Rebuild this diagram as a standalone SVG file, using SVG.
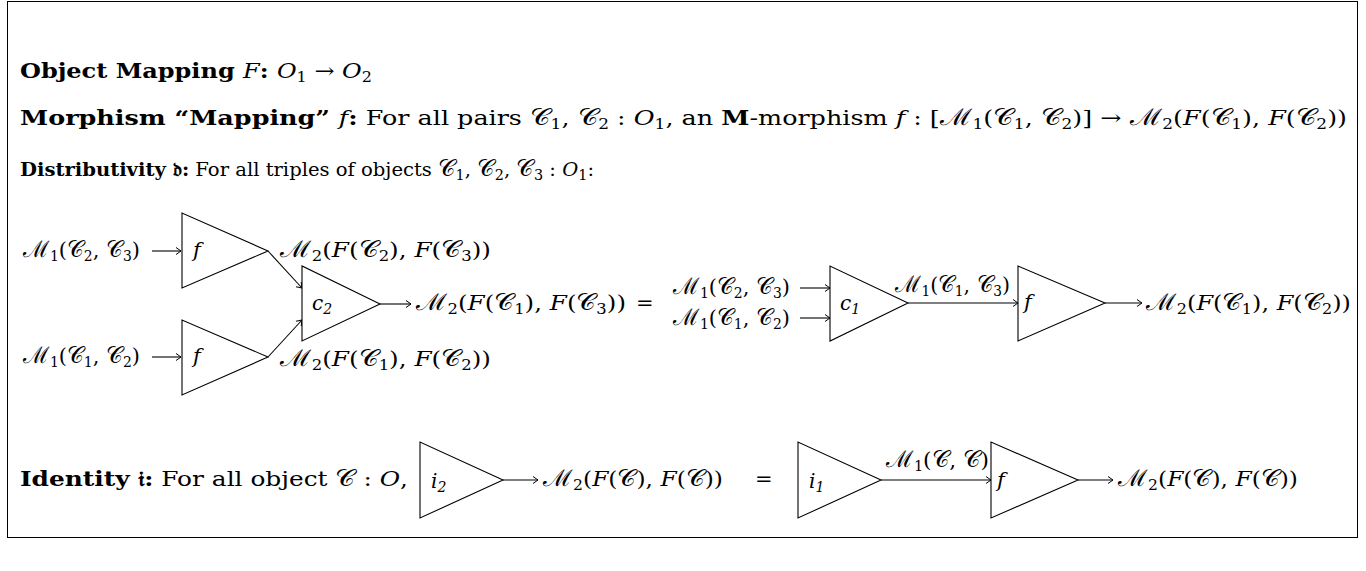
<svg xmlns="http://www.w3.org/2000/svg" width="1366" height="571" viewBox="0 0 1366 571">
<defs>
<style>
text{font-family:"DejaVu Serif","Liberation Serif",serif;font-size:20px;fill:#000}
.h{font-size:21px}
.d{font-size:19px}
.lb{font-size:21px}
.b{font-weight:bold}
.i{font-style:italic}
.sc{font-size:23px}
.sb{font-size:14px;baseline-shift:-4px}
.tri{fill:#fff;stroke:#000;stroke-width:1.1}
.con{fill:none;stroke:#000;stroke-width:1.1;marker-end:url(#ah)}
</style>
<marker id="ah" markerUnits="userSpaceOnUse" markerWidth="10" markerHeight="10" viewBox="-6 -5 7 10" refX="0" refY="0" orient="auto">
<path d="M-5,-3.5 Q-1.5,-1 0,0 Q-1.5,1 -5,3.5" fill="none" stroke="#000" stroke-width="1"/>
</marker>
</defs>
<rect x="7.5" y="1.5" width="1350" height="536" fill="#fff" stroke="#000" stroke-width="1"/>

<g id="header">
<text class="h" x="20" y="78" textLength="352" lengthAdjust="spacingAndGlyphs"><tspan class="b">Object Mapping </tspan><tspan class="i">F</tspan><tspan class="b">: </tspan><tspan class="i">O</tspan><tspan class="sb">1</tspan> → <tspan class="i">O</tspan><tspan class="sb">2</tspan></text>
<text class="h" x="20" y="125" textLength="1327" lengthAdjust="spacingAndGlyphs"><tspan class="b">Morphism “Mapping” </tspan><tspan class="i">f</tspan><tspan class="b">:</tspan> For all pairs <tspan class="sc">𝒞</tspan><tspan class="sb">1</tspan>, <tspan class="sc">𝒞</tspan><tspan class="sb">2</tspan> : <tspan class="i">O</tspan><tspan class="sb">1</tspan>, an <tspan class="b">M</tspan>-morphism <tspan class="i">f</tspan> : [<tspan class="sc">ℳ</tspan><tspan class="sb">1</tspan>(<tspan class="sc">𝒞</tspan><tspan class="sb">1</tspan>, <tspan class="sc">𝒞</tspan><tspan class="sb">2</tspan>)] → <tspan class="sc">ℳ</tspan><tspan class="sb">2</tspan>(<tspan class="i">F</tspan>(<tspan class="sc">𝒞</tspan><tspan class="sb">1</tspan>), <tspan class="i">F</tspan>(<tspan class="sc">𝒞</tspan><tspan class="sb">2</tspan>))</text>
<text class="d" x="20" y="176" textLength="574" lengthAdjust="spacingAndGlyphs"><tspan class="b">Distributivity 𝔡:</tspan> For all triples of objects <tspan class="sc">𝒞</tspan><tspan class="sb">1</tspan>, <tspan class="sc">𝒞</tspan><tspan class="sb">2</tspan>, <tspan class="sc">𝒞</tspan><tspan class="sb">3</tspan> : <tspan class="i">O</tspan><tspan class="sb">1</tspan>:</text>
<text class="h" x="20" y="486" textLength="388" lengthAdjust="spacingAndGlyphs"><tspan class="b">Identity 𝔦:</tspan> For all object <tspan class="sc">𝒞</tspan> : <tspan class="i">O</tspan>,</text>
</g>

<g id="connectors">
<path class="con" d="M152,251 H181"/>
<path class="con" d="M152,357 H181"/>
<path class="con" d="M268,251 L302,288"/>
<path class="con" d="M268,357 L302,320"/>
<path class="con" d="M380,304 H411"/>
<path class="con" d="M800,288 H830"/>
<path class="con" d="M800,318 H830"/>
<path class="con" d="M908,303 H1018"/>
<path class="con" d="M1105,303 H1142"/>
<path class="con" d="M503,480 H538"/>
<path class="con" d="M881,480 H991"/>
<path class="con" d="M1078,480 H1113"/>
</g>

<g id="labels">
<text class="lb" x="23" y="257" textLength="117" lengthAdjust="spacingAndGlyphs"><tspan class="sc">ℳ</tspan><tspan class="sb">1</tspan>(<tspan class="sc">𝒞</tspan><tspan class="sb">2</tspan>, <tspan class="sc">𝒞</tspan><tspan class="sb">3</tspan>)</text>
<text class="lb" x="23" y="363" textLength="117" lengthAdjust="spacingAndGlyphs"><tspan class="sc">ℳ</tspan><tspan class="sb">1</tspan>(<tspan class="sc">𝒞</tspan><tspan class="sb">1</tspan>, <tspan class="sc">𝒞</tspan><tspan class="sb">2</tspan>)</text>
<text class="lb" x="280" y="257" textLength="211" lengthAdjust="spacingAndGlyphs"><tspan class="sc">ℳ</tspan><tspan class="sb">2</tspan>(<tspan class="i">F</tspan>(<tspan class="sc">𝒞</tspan><tspan class="sb">2</tspan>), <tspan class="i">F</tspan>(<tspan class="sc">𝒞</tspan><tspan class="sb">3</tspan>))</text>
<text class="lb" x="280" y="366" textLength="211" lengthAdjust="spacingAndGlyphs"><tspan class="sc">ℳ</tspan><tspan class="sb">2</tspan>(<tspan class="i">F</tspan>(<tspan class="sc">𝒞</tspan><tspan class="sb">1</tspan>), <tspan class="i">F</tspan>(<tspan class="sc">𝒞</tspan><tspan class="sb">2</tspan>))</text>
<text class="lb" x="416" y="310" textLength="210" lengthAdjust="spacingAndGlyphs"><tspan class="sc">ℳ</tspan><tspan class="sb">2</tspan>(<tspan class="i">F</tspan>(<tspan class="sc">𝒞</tspan><tspan class="sb">1</tspan>), <tspan class="i">F</tspan>(<tspan class="sc">𝒞</tspan><tspan class="sb">3</tspan>))</text>
<text class="lb" x="636" y="310">=</text>
<text class="lb" x="673" y="294" textLength="117" lengthAdjust="spacingAndGlyphs"><tspan class="sc">ℳ</tspan><tspan class="sb">1</tspan>(<tspan class="sc">𝒞</tspan><tspan class="sb">2</tspan>, <tspan class="sc">𝒞</tspan><tspan class="sb">3</tspan>)</text>
<text class="lb" x="673" y="325" textLength="117" lengthAdjust="spacingAndGlyphs"><tspan class="sc">ℳ</tspan><tspan class="sb">1</tspan>(<tspan class="sc">𝒞</tspan><tspan class="sb">1</tspan>, <tspan class="sc">𝒞</tspan><tspan class="sb">2</tspan>)</text>
<text class="lb" x="895" y="292" textLength="115" lengthAdjust="spacingAndGlyphs"><tspan class="sc">ℳ</tspan><tspan class="sb">1</tspan>(<tspan class="sc">𝒞</tspan><tspan class="sb">1</tspan>, <tspan class="sc">𝒞</tspan><tspan class="sb">3</tspan>)</text>
<text class="lb" x="1146" y="310" textLength="205" lengthAdjust="spacingAndGlyphs"><tspan class="sc">ℳ</tspan><tspan class="sb">2</tspan>(<tspan class="i">F</tspan>(<tspan class="sc">𝒞</tspan><tspan class="sb">1</tspan>), <tspan class="i">F</tspan>(<tspan class="sc">𝒞</tspan><tspan class="sb">2</tspan>))</text>
<text class="lb" x="543" y="486" textLength="180" lengthAdjust="spacingAndGlyphs"><tspan class="sc">ℳ</tspan><tspan class="sb">2</tspan>(<tspan class="i">F</tspan>(<tspan class="sc">𝒞</tspan>), <tspan class="i">F</tspan>(<tspan class="sc">𝒞</tspan>))</text>
<text class="lb" x="755" y="486">=</text>
<text class="lb" x="886" y="467" textLength="103" lengthAdjust="spacingAndGlyphs"><tspan class="sc">ℳ</tspan><tspan class="sb">1</tspan>(<tspan class="sc">𝒞</tspan>, <tspan class="sc">𝒞</tspan>)</text>
<text class="lb" x="1118" y="486" textLength="180" lengthAdjust="spacingAndGlyphs"><tspan class="sc">ℳ</tspan><tspan class="sb">2</tspan>(<tspan class="i">F</tspan>(<tspan class="sc">𝒞</tspan>), <tspan class="i">F</tspan>(<tspan class="sc">𝒞</tspan>))</text>
</g>

<g id="node-f-top"><polygon class="tri" points="182,213 182,288 268,251"/><text class="i lb" x="193" y="257">f</text></g>
<g id="node-f-bottom"><polygon class="tri" points="182,320 182,395 268,357"/><text class="i lb" x="193" y="363">f</text></g>
<g id="node-c2"><polygon class="tri" points="302,266 302,341 380,304"/><text class="i" x="312" y="310">c<tspan class="sb">2</tspan></text></g>
<g id="node-c1"><polygon class="tri" points="830,266 830,341 908,303"/><text class="i" x="840" y="310">c<tspan class="sb">1</tspan></text></g>
<g id="node-f-right"><polygon class="tri" points="1018,266 1018,341 1105,303"/><text class="i lb" x="1024" y="309">f</text></g>
<g id="node-i2"><polygon class="tri" points="420,442 420,518 503,480"/><text class="i" x="431" y="488">i<tspan class="sb">2</tspan></text></g>
<g id="node-i1"><polygon class="tri" points="798,442 798,518 881,480"/><text class="i" x="809" y="488">i<tspan class="sb">1</tspan></text></g>
<g id="node-f-id"><polygon class="tri" points="991,442 991,518 1078,480"/><text class="i lb" x="997" y="487">f</text></g>
</svg>
